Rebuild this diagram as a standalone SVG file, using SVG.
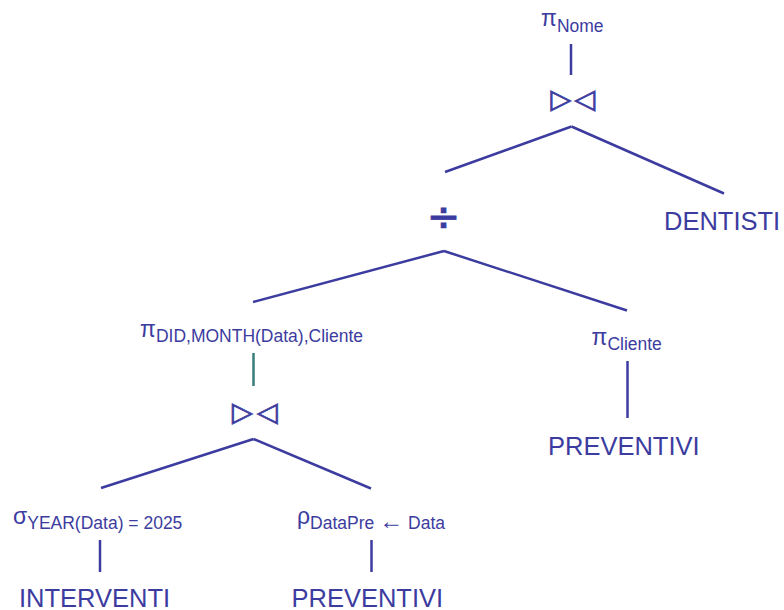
<svg xmlns="http://www.w3.org/2000/svg" width="784" height="610" viewBox="0 0 784 610">
<style>
  .t { fill: #3c3ca0; font-family: "Liberation Sans", Arial, sans-serif; }
  .g { font-size: 23px; }
  .s { font-size: 17.5px; }
  .big { font-size: 25.5px; }
  .sym { fill: #3c3ca0; stroke: #3c3ca0; stroke-width: 0.8; font-family: "DejaVu Sans", sans-serif; text-anchor: middle; }
  .e { stroke: #3c3ca0; stroke-width: 2.5; fill: none; }
  .teal { stroke: #3a7d7d; }
</style>
<rect width="784" height="610" fill="#ffffff"/>
<g id="connectors">
  <line class="e" x1="571" y1="44" x2="571" y2="75"/>
  <line class="e" x1="571.5" y1="126.5" x2="445" y2="172"/>
  <line class="e" x1="571.5" y1="126.5" x2="724" y2="193.5"/>
  <line class="e" x1="444" y1="251" x2="253" y2="302"/>
  <line class="e" x1="444" y1="251" x2="627" y2="310.5"/>
  <line class="e teal" x1="253.5" y1="353" x2="253.5" y2="386"/>
  <line class="e" x1="253.5" y1="439" x2="101" y2="488"/>
  <line class="e" x1="253.5" y1="439" x2="371" y2="488.5"/>
  <line class="e" x1="100" y1="540" x2="100" y2="572"/>
  <line class="e" x1="371.5" y1="540" x2="371.5" y2="572"/>
  <line class="e" x1="627.5" y1="361" x2="627.5" y2="418"/>
</g>
<g id="proj-nome">
  <text class="t g" x="541" y="26">π<tspan class="s" dy="5.7">Nome</tspan></text>
</g>
<g id="join-top">
  <text class="sym" x="561" y="108" font-size="27">▷</text>
  <text class="sym" x="585" y="108" font-size="27">◁</text>
</g>
<g id="division">
  <text class="sym" x="443.5" y="229.5" font-size="40">÷</text>
</g>
<g id="dentisti">
  <text class="t big" x="664" y="230">DENTISTI</text>
</g>
<g id="proj-did">
  <text class="t g" x="140" y="336.5">π<tspan class="s" dy="5.8">DID,MONTH(Data),Cliente</tspan></text>
</g>
<g id="proj-cliente">
  <text class="t g" x="591.5" y="344.5">π<tspan class="s" dy="5">Cliente</tspan></text>
</g>
<g id="preventivi-right">
  <text class="t big" x="548" y="455">PREVENTIVI</text>
</g>
<g id="join-bottom">
  <text class="sym" x="242.5" y="420.5" font-size="27">▷</text>
  <text class="sym" x="267.5" y="420.5" font-size="27">◁</text>
</g>
<g id="selection">
  <text class="t g" x="13" y="523.5">σ<tspan class="s" dy="5.8">YEAR(Data) = 2025</tspan></text>
</g>
<g id="rename">
  <text class="t g" x="297" y="524">ρ<tspan class="s" dy="5.3">DataPre <tspan font-size="24">←</tspan> Data</tspan></text>
</g>
<g id="interventi">
  <text class="t big" x="19" y="606.5">INTERVENTI</text>
</g>
<g id="preventivi-bottom">
  <text class="t big" x="291.5" y="606.5">PREVENTIVI</text>
</g>
</svg>
